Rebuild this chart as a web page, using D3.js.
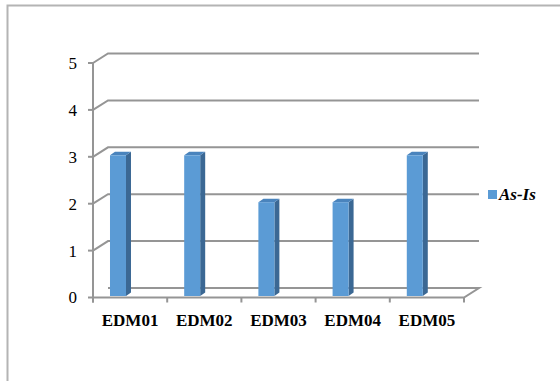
<!DOCTYPE html>
<html><head><meta charset="utf-8">
<script src="https://cdn.jsdelivr.net/npm/d3@7"></script>
<style>html,body{margin:0;padding:0;background:#fff;}svg{display:block;}
text{font-family:"Liberation Serif","Times New Roman",Times,"DejaVu Serif",serif;}</style>
</head><body>
<script>
const categories = ["EDM01","EDM02","EDM03","EDM04","EDM05"];
const seriesName = "As-Is";
const values = [3,3,2,2,3];
const yTicks = [0,1,2,3,4,5];

const W = 560, H = 381;
const svg = d3.select("body").append("svg").attr("width", W).attr("height", H);

// outer border (top & left)
svg.append("path").attr("d", `M7.5,${H} L7.5,5.5 L${W},5.5`).attr("fill","none")
  .attr("stroke","#b4b4b4").attr("stroke-width",2);

const x0 = 93, x1 = 464;
const depthX = 15, depthY = -9.5;
const x = d3.scaleBand().domain(categories).range([x0, x1]);
const y = d3.scaleLinear().domain([0,5]).range([297.5, 63]);
const grid = "#959595";

const g = svg.append("g");
// floor
g.append("path").attr("d",
  `M${x0},${y(0)} L${x1},${y(0)} L${x1+depthX},${y(0)+depthY} L${x0+depthX},${y(0)+depthY}`)
  .attr("fill","none").attr("stroke",grid).attr("stroke-width",2).attr("stroke-linejoin","miter");
// gridlines (side wall diagonal + back wall)
yTicks.forEach(t => {
  if (t === 0) return;
  g.append("path").attr("d",
    `M${x0},${y(t)} L${x0+depthX},${y(t)+depthY} L${x1+depthX},${y(t)+depthY}`)
    .attr("fill","none").attr("stroke",grid).attr("stroke-width",2);
});
// front vertical axis
g.append("line").attr("x1",x0).attr("x2",x0).attr("y1",y(5)).attr("y2",y(0)+5)
  .attr("stroke",grid).attr("stroke-width",2);
// y ticks + labels
yTicks.forEach(t => {
  g.append("line").attr("x1",x0-5).attr("x2",x0).attr("y1",y(t)).attr("y2",y(t))
    .attr("stroke",grid).attr("stroke-width",2);
  g.append("text").attr("x",77).attr("y",y(t)).attr("dy","0.35em")
    .attr("text-anchor","end").style("font-size","17px")
    .attr("fill","#000").text(t);
});
// x ticks
const edges = categories.map(c => x(c)).concat([x1]);
edges.forEach(e => {
  g.append("line").attr("x1",e).attr("x2",e).attr("y1",y(0)).attr("y2",y(0)+5)
    .attr("stroke",grid).attr("stroke-width",2);
});
// x labels
categories.forEach(c => {
  g.append("text").attr("x", x(c)+x.bandwidth()/2).attr("y",326)
    .attr("text-anchor","middle").style("font-size","17px")
    .style("font-weight","bold").attr("fill","#000").text(c);
});

// bars
const bw = 16, sx = 5, sy = -3.5, lift = 1.5;
values.forEach((v,i) => {
  const bx = x(categories[i]) + x.bandwidth()*0.229;
  const yt = y(v) - lift, yb = y(0) - lift;
  const bg = g.append("g");
  bg.append("path").attr("d",
    `M${bx+bw},${yt} L${bx+bw+sx},${yt+sy} L${bx+bw+sx},${yb+sy} L${bx+bw},${yb}Z`)
    .attr("fill","#3b6894");
  bg.append("path").attr("d",
    `M${bx},${yt} L${bx+sx},${yt+sy} L${bx+bw+sx},${yt+sy} L${bx+bw},${yt}Z`)
    .attr("fill","#4a84bd");
  bg.append("rect").attr("x",bx).attr("y",yt).attr("width",bw).attr("height",yb-yt)
    .attr("fill","#5b9bd5");
});

// legend
svg.append("rect").attr("x",488).attr("y",190).attr("width",9).attr("height",9).attr("fill","#5b9bd5");
svg.append("text").attr("x",499).attr("y",200).style("font-size","17px")
  .style("font-weight","bold").style("font-style","italic").attr("fill","#000").text(seriesName);
</script>
</body></html>
